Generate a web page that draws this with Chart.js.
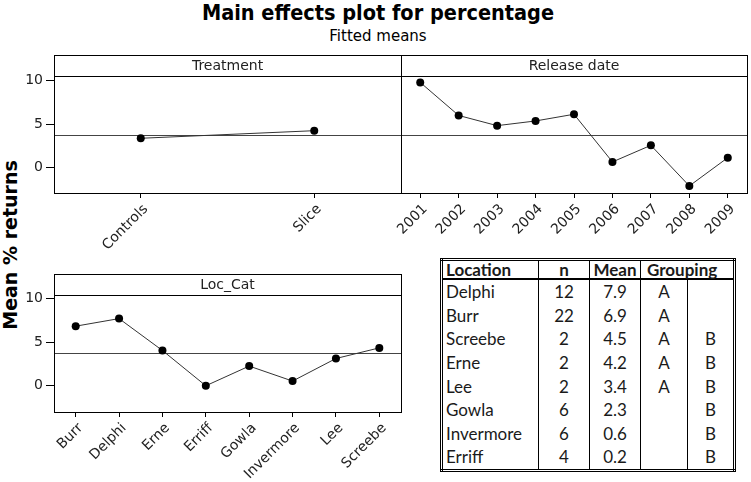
<!DOCTYPE html>
<html>
<head>
<meta charset="utf-8">
<script src="https://cdn.jsdelivr.net/npm/chart.js@4"></script>
<style>
  body { margin: 0; width: 751px; height: 482px; background: #fff; position: relative; overflow: hidden; font-family: 'DejaVu Sans', sans-serif; color: #000; }
  .abs { position: absolute; }
  #title { left: 0; top: 0; width: 756px; text-align: center; font: bold 21.5px 'DejaVu Sans Condensed', 'DejaVu Sans', sans-serif; }
  #subtitle { left: 0; top: 27px; width: 756px; text-align: center; font: 15px 'DejaVu Sans', sans-serif; }
  #ytitle { left: 10px; top: 245px; transform: translate(-50%, -50%) rotate(-90deg); white-space: nowrap; font: bold 19px 'DejaVu Sans', sans-serif; }
  canvas { position: absolute; }
  #groups { position: absolute; left: 440px; top: 258px; border-collapse: collapse; border: 3px double #000; font: 17px Lato, sans-serif; color: #1a1a1a; }
  #groups td, #groups th { border-left: 1px solid #000; padding: 0; height: 23.6px; line-height: 23px; text-align: center; }
  #groups th { font-weight: bold; border-bottom: 2px solid #000; height: 17px; line-height: 17px; }
  #groups .loc { text-align: left; padding-left: 3px; }
  #groups th.grp { text-align: left; padding-left: 6px; }
</style>
</head>
<body>
<div id="title" class="abs">Main effects plot for percentage</div>
<div id="subtitle" class="abs">Fitted means</div>
<div id="ytitle" class="abs">Mean % returns</div>

<canvas id="treat" width="386" height="203" style="left:20px; top:50px;"></canvas>
<canvas id="release" width="355" height="203" style="left:396px; top:50px;"></canvas>
<canvas id="loc" width="386" height="213" style="left:20px; top:269px;"></canvas>

<table id="groups"></table>

<script>
// fitted means
var treatmentLabels = ['Controls', 'Slice'];
var treatmentMeans = [3.38, 4.25];

var releaseLabels = ['2001', '2002', '2003', '2004', '2005', '2006', '2007', '2008', '2009'];
var releaseMeans = [9.8, 6.0, 4.83, 5.37, 6.14, 0.66, 2.57, -2.1, 1.15];

var locLabels = ['Burr', 'Delphi', 'Erne', 'Erriff', 'Gowla', 'Invermore', 'Lee', 'Screebe'];
var locMeans = [6.84, 7.71, 4.05, 0.0, 2.26, 0.54, 3.13, 4.35];

var grandMean = 3.76;
var yTicks = [0, 5, 10];

// grouping table
var tableLocation = ['Delphi', 'Burr', 'Screebe', 'Erne', 'Lee', 'Gowla', 'Invermore', 'Erriff'];
var tableN = [12, 22, 2, 2, 2, 6, 6, 4];
var tableMean = ['7.9', '6.9', '4.5', '4.2', '3.4', '2.3', '0.6', '0.2'];
var tableGroupA = ['A', 'A', 'A', 'A', 'A', '', '', ''];
var tableGroupB = ['', '', 'B', 'B', 'B', 'B', 'B', 'B'];

Chart.defaults.font.family = "'DejaVu Sans', sans-serif";
Chart.defaults.color = '#000';

// frame, strip header and the grand mean line
var panelFrame = {
  id: 'panelFrame',
  beforeDatasetsDraw: function(chart, args, opts) {
    var ctx = chart.ctx, a = chart.chartArea;
    var y = Math.round(chart.scales.y.getPixelForValue(grandMean)) + 0.5;
    ctx.save();
    ctx.strokeStyle = '#444';
    ctx.lineWidth = 1;
    ctx.beginPath();
    ctx.moveTo(a.left, y);
    ctx.lineTo(a.right, y);
    ctx.stroke();
    ctx.restore();
  },
  afterDatasetsDraw: function(chart, args, opts) {
    var ctx = chart.ctx, a = chart.chartArea;
    ctx.save();
    ctx.strokeStyle = '#000';
    ctx.lineWidth = 1;
    ctx.strokeRect(Math.round(a.left) + 0.5, Math.round(a.top) + 0.5, Math.round(a.width), Math.round(a.height));
    var sy = Math.round(a.top) + 21.5;
    ctx.beginPath();
    ctx.moveTo(a.left, sy);
    ctx.lineTo(a.right, sy);
    ctx.stroke();
    ctx.fillStyle = '#222';
    ctx.font = "14px 'DejaVu Sans'";
    ctx.textAlign = 'center';
    ctx.textBaseline = 'middle';
    ctx.fillText(opts.label, (a.left + a.right) / 2, a.top + 11);
    ctx.restore();
  }
};

function makePanel(id, labels, values, strip, yMin, yMax, showY, xHeight, pad) {
  return new Chart(document.getElementById(id), {
    type: 'line',
    data: {
      labels: labels,
      datasets: [{
        data: values,
        borderColor: '#333',
        borderWidth: 1,
        pointRadius: 4,
        pointBackgroundColor: '#000',
        pointBorderWidth: 0,
        tension: 0
      }]
    },
    options: {
      responsive: false,
      animation: false,
      layout: { padding: pad },
      plugins: {
        legend: { display: false },
        tooltip: { enabled: false },
        panelFrame: { label: strip }
      },
      scales: {
        x: {
          offset: true,
          grid: { drawOnChartArea: false, tickLength: 5, color: '#000' },
          border: { display: false },
          ticks: { minRotation: 45, maxRotation: 45, autoSkip: false, padding: 3, labelOffset: 5, font: { size: 14 }, color: '#222' },
          afterFit: function(s) { s.height = xHeight; s.paddingLeft = 0; s.paddingRight = 0; }
        },
        y: {
          display: showY,
          min: yMin,
          max: yMax,
          grid: { drawOnChartArea: false, tickLength: 8, color: '#000' },
          border: { display: false },
          ticks: { padding: 3, font: { size: 14 }, color: '#222' },
          afterBuildTicks: function(s) { s.ticks = yTicks.map(function(v) { return { value: v }; }); },
          afterFit: function(s) { s.width = showY ? 34 : 0; s.paddingTop = 0; s.paddingBottom = 0; }
        }
      }
    },
    plugins: [panelFrame]
  });
}

makePanel('treat', treatmentLabels, treatmentMeans, 'Treatment', -2.91, 12.95, true, 60, { top: 5, right: 5, left: 0, bottom: 0 });
makePanel('release', releaseLabels, releaseMeans, 'Release date', -2.91, 12.95, false, 60, { top: 5, right: 1, left: 5, bottom: 0 });
makePanel('loc', locLabels, locMeans, 'Loc_Cat', -3.01, 12.83, true, 70, { top: 5, right: 5, left: 0, bottom: 0 });

// table
var tbl = document.getElementById('groups');
var widths = [95, 50, 50, 46, 45];
var html = '<tr><th class="loc" style="width:' + (widths[0] - 3) + 'px;border-left:none">Location</th>' +
  '<th style="width:' + widths[1] + 'px">n</th>' +
  '<th style="width:' + widths[2] + 'px">Mean</th>' +
  '<th class="grp" colspan="2">Grouping</th></tr>';
for (var i = 0; i < tableLocation.length; i++) {
  html += '<tr><td class="loc" style="border-left:none">' + tableLocation[i] + '</td>' +
    '<td>' + tableN[i] + '</td>' +
    '<td>' + tableMean[i] + '</td>' +
    '<td style="width:' + widths[3] + 'px">' + tableGroupA[i] + '</td>' +
    '<td style="width:' + widths[4] + 'px">' + tableGroupB[i] + '</td></tr>';
}
tbl.innerHTML = html;
</script>
</body>
</html>
